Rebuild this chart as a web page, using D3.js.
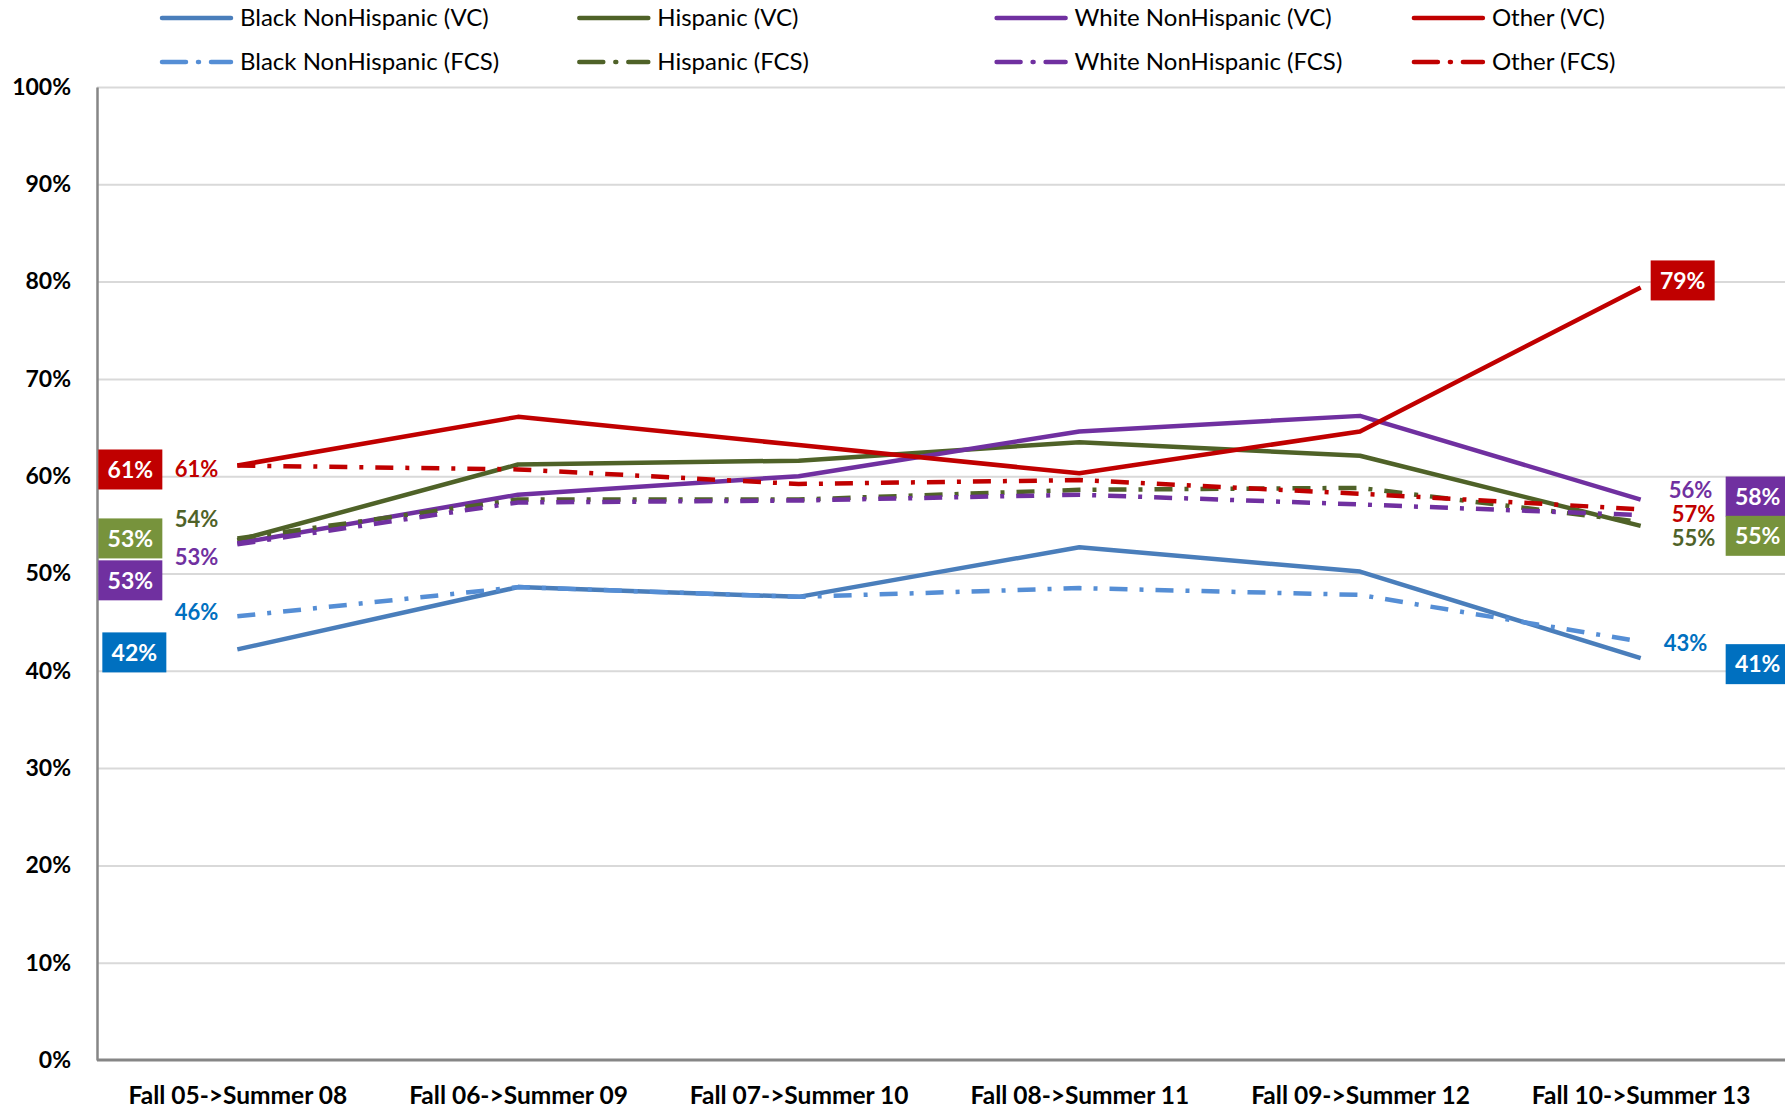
<!DOCTYPE html>
<html>
<head>
<meta charset="utf-8">
<script src="https://cdn.jsdelivr.net/npm/d3@7"></script>
<style>
	body { margin: 0; background: #fff; }
	text { font-family: Lato, "Open Sans", sans-serif; }
</style>
</head>
<body>
<div id="chart"></div>
<script>

// categories on the x axis
var categories = ['Fall 05->Summer 08', 'Fall 06->Summer 09', 'Fall 07->Summer 10',
	'Fall 08->Summer 11', 'Fall 09->Summer 12', 'Fall 10->Summer 13'];

var yTicks = [0, 10, 20, 30, 40, 50, 60, 70, 80, 90, 100];

// values in percent
var blackVC     = [42.2, 48.6, 47.6, 52.7, 50.2, 41.3];
var hispanicVC  = [53.4, 61.2, 61.6, 63.5, 62.1, 54.9];
var whiteVC     = [53.1, 58.1, 60.0, 64.6, 66.2, 57.6];
var otherVC     = [61.1, 66.1, 63.2, 60.3, 64.6, 79.4];
var blackFCS    = [45.6, 48.6, 47.6, 48.5, 47.8, 43.0];
var hispanicFCS = [53.6, 57.6, 57.6, 58.6, 58.8, 55.3];
var whiteFCS    = [53.0, 57.3, 57.5, 58.1, 57.1, 56.0];
var otherFCS    = [61.1, 60.7, 59.2, 59.6, 58.2, 56.6];

var seriesNames = ['Black NonHispanic (VC)', 'Hispanic (VC)', 'White NonHispanic (VC)', 'Other (VC)',
	'Black NonHispanic (FCS)', 'Hispanic (FCS)', 'White NonHispanic (FCS)', 'Other (FCS)'];

window.onload = function () {

	const width = 1785
	const height = 1110

	var lineColor = ['#4a7ebb', '#4f6228', '#7030a0', '#c00000', '#558ed5', '#4f6228', '#7030a0', '#c00000'];
	var boxColor = ['#0070c0', '#77933c', '#7030a0', '#c00000'];
	var textColor = ['#0070c0', '#4f6228', '#7030a0', '#c00000'];

	var allValues = [blackVC, hispanicVC, whiteVC, otherVC, blackFCS, hispanicFCS, whiteFCS, otherFCS];
	var series = seriesNames.map(function (n, i) {
		return { name: n, values: allValues[i], color: lineColor[i], dashed: i >= 4, group: i % 4 };
	});

	var svg = d3.select('#chart').append('svg')
		.attr('width', width)
		.attr('height', height);

	svg.append('rect').attr('width', width).attr('height', height).attr('fill', '#fff');

	var x = d3.scalePoint().domain(categories).range([97, 1781]).padding(0.5);
	var y = d3.scaleLinear().domain([0, 100]).range([1060, 87]);

	// gridlines
	svg.append('g')
		.attr('class', 'grid')
		.attr('transform', 'translate(97,0)')
		.call(d3.axisRight(y).tickValues(yTicks.slice(1)).tickSize(1688).tickFormat(''))
		.call(function (g) {
			g.select('.domain').remove();
			g.selectAll('line').attr('stroke', '#d9d9d9').attr('stroke-width', 2);
		});

	// y axis
	svg.append('g')
		.attr('transform', 'translate(97,0)')
		.call(d3.axisLeft(y).tickValues(yTicks).tickSize(0).tickPadding(26).tickFormat(function (d) { return d + '%'; }))
		.call(function (g) {
			g.select('.domain').attr('stroke', '#868686').attr('stroke-width', 2.5);
			g.selectAll('text')
				.attr('font-size', 23).attr('font-weight', 'bold').attr('fill', '#000')
				.style('font-family', 'Lato, sans-serif');
		});

	// x axis
	svg.append('g')
		.attr('transform', 'translate(0,1060)')
		.call(d3.axisBottom(x).tickSize(0).tickPadding(27))
		.call(function (g) {
			g.select('.domain').attr('stroke', '#868686').attr('stroke-width', 3).attr('d', 'M97,0H1785');
			g.selectAll('text')
				.attr('font-size', 24.5).attr('font-weight', 'bold').attr('fill', '#000')
				.style('font-family', 'Lato, sans-serif');
		});

	// lines
	var line = d3.line()
		.x(function (d, i) { return x(categories[i]); })
		.y(function (d) { return y(d); });

	svg.append('g').attr('id', 'lines')
		.selectAll('path').data(series).enter().append('path')
		.attr('d', function (d) { return line(d.values); })
		.attr('fill', 'none')
		.attr('stroke', function (d) { return d.color; })
		.attr('stroke-width', 4.5)
		.attr('stroke-linejoin', 'round')
		.attr('stroke-dasharray', function (d) { return d.dashed ? '18,12,4,12' : null; });

	// legend
	var legend = svg.append('g').attr('id', 'legend')
		.selectAll('g').data(series).enter().append('g')
		.attr('transform', function (d, i) {
			return 'translate(' + (162 + (i % 4) * 417.3) + ',' + (i < 4 ? 18 : 62) + ')';
		});
	legend.append('line')
		.attr('x1', 0).attr('x2', 69)
		.attr('stroke', function (d) { return d.color; })
		.attr('stroke-width', 4.5)
		.attr('stroke-linecap', 'round')
		.attr('stroke-dasharray', function (d) { return d.dashed ? '24,12,1,12,24' : null; });
	legend.append('text')
		.attr('x', 78).attr('dy', '0.35em')
		.attr('font-size', 24)
		.attr('fill', '#000')
		.text(function (d) { return d.name; });

	// data labels: boxed ones for VC, plain text for FCS
	// nudges keep labels from overlapping, as in the original
	var first = categories[0], last = categories[categories.length - 1];
	var boxLabels = [
		{ s: 3, cat: first, dx: -107, dy: 4 },
		{ s: 1, cat: first, dx: -107, dy: -2 },
		{ s: 2, cat: first, dx: -107, dy: 37 },
		{ s: 0, cat: first, dx: -103, dy: 3 },
		{ s: 3, cat: last, dx: 42, dy: -7 },
		{ s: 2, cat: last, dx: 117, dy: -3 },
		{ s: 1, cat: last, dx: 117, dy: 10 },
		{ s: 0, cat: last, dx: 117, dy: 6 }
	];
	var textLabels = [
		{ s: 7, cat: first, dx: -19, dy: 4, anchor: 'end' },
		{ s: 5, cat: first, dx: -19, dy: -19, anchor: 'end' },
		{ s: 6, cat: first, dx: -19, dy: 13, anchor: 'end' },
		{ s: 4, cat: first, dx: -19, dy: -4, anchor: 'end' },
		{ s: 6, cat: last, dx: 28, dy: -25, anchor: 'start' },
		{ s: 7, cat: last, dx: 31, dy: 5, anchor: 'start' },
		{ s: 5, cat: last, dx: 31, dy: 16, anchor: 'start' },
		{ s: 4, cat: last, dx: 23, dy: 1, anchor: 'start' }
	];

	function labelValue(d) {
		var v = series[d.s].values[categories.indexOf(d.cat)];
		return { v: v, x: x(d.cat) + d.dx, y: y(v) + d.dy };
	}

	var boxes = svg.append('g').attr('id', 'boxes')
		.selectAll('g').data(boxLabels).enter().append('g')
		.attr('transform', function (d) { var p = labelValue(d); return 'translate(' + p.x + ',' + p.y + ')'; });
	boxes.append('rect')
		.attr('x', -32).attr('y', -20).attr('width', 64).attr('height', 40)
		.attr('fill', function (d) { return boxColor[series[d.s].group]; });
	boxes.append('text')
		.attr('text-anchor', 'middle').attr('dy', '0.36em')
		.attr('font-size', 23).attr('font-weight', 'bold').attr('fill', '#fff')
		.text(function (d) { return Math.round(labelValue(d).v) + '%'; });

	svg.append('g').attr('id', 'texts')
		.selectAll('text').data(textLabels).enter().append('text')
		.attr('x', function (d) { return labelValue(d).x; })
		.attr('y', function (d) { return labelValue(d).y; })
		.attr('dy', '0.36em')
		.attr('text-anchor', function (d) { return d.anchor; })
		.attr('font-size', 22).attr('font-weight', 'bold')
		.attr('fill', function (d) { return textColor[series[d.s].group]; })
		.text(function (d) { return Math.round(labelValue(d).v) + '%'; });
}
</script>
</body>
</html>
